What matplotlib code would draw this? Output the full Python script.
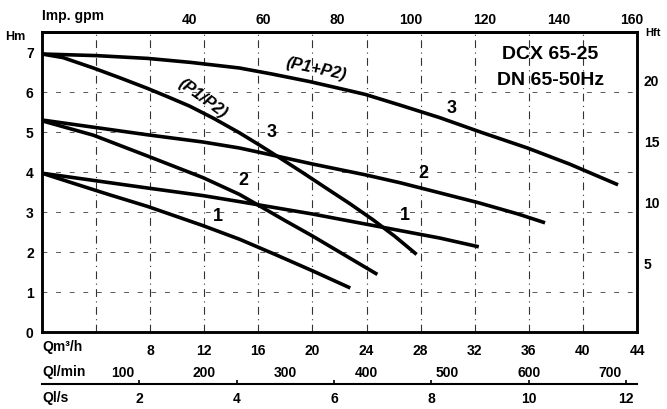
import matplotlib
matplotlib.use('Agg')
import matplotlib.pyplot as plt

plt.rcParams['font.family'] = ['Liberation Sans', 'DejaVu Sans']
plt.rcParams['font.weight'] = 'bold'

# pump curves, Q in m3/h, H in m
q_3_sum = [0, 4, 7.8, 11, 14.6, 17, 19.8, 22, 23.9, 26.5, 29.4, 32.5, 35.9, 39, 42.6]
h_3_sum = [6.95, 6.91, 6.84, 6.74, 6.6, 6.45, 6.26, 6.09, 5.94, 5.67, 5.36, 4.99, 4.6, 4.2, 3.68]
q_3_par = [0, 1.55, 3.8, 5.8, 7.8, 9.3, 10.9, 12.7, 14.6, 16.1, 17.6, 19.3, 21, 22.8, 24.5, 26.1, 27.7]
h_3_par = [6.95, 6.86, 6.6, 6.35, 6.09, 5.88, 5.65, 5.34, 4.98, 4.67, 4.35, 3.98, 3.6, 3.2, 2.8, 2.39, 1.94]

q_2_sum = [0, 3.8, 7.8, 11.9, 14.6, 17.6, 20, 23.9, 26.5, 29.4, 32.3, 35.2, 37.2]
h_2_sum = [5.3, 5.12, 4.93, 4.75, 4.6, 4.38, 4.2, 3.93, 3.73, 3.48, 3.23, 2.95, 2.73]
q_2_par = [0, 3.8, 7.8, 11.9, 14.6, 16.1, 18, 20, 22.5, 24.8]
h_2_par = [5.28, 4.92, 4.4, 3.86, 3.44, 3.15, 2.78, 2.4, 1.9, 1.44]

q_1_sum = [0, 3.8, 7.8, 11.9, 14.6, 20, 23.9, 29.4, 32.3]
h_1_sum = [3.97, 3.79, 3.6, 3.41, 3.26, 2.95, 2.7, 2.35, 2.13]
q_1_par = [0, 2.3, 5, 7.8, 11.9, 14.6, 17.3, 20, 22.8]
h_1_par = [3.97, 3.72, 3.43, 3.14, 2.66, 2.32, 1.93, 1.53, 1.1]

q_ticks = [4, 8, 12, 16, 20, 24, 28, 32, 36, 40, 44]
h_ticks = [0, 1, 2, 3, 4, 5, 6, 7]
ft_ticks = [5, 10, 15, 20]
gpm_ticks = [40, 60, 80, 100, 120, 140, 160]
lmin_ticks = [100, 200, 300, 400, 500, 600, 700]
ls_ticks = [2, 4, 6, 8, 10, 12]

fig = plt.figure(figsize=(6.67, 4.10), dpi=100)
ax = fig.add_axes([42/667, 1 - 333/410, 595/667, 300/410])

for q, h in [(q_3_sum, h_3_sum), (q_3_par, h_3_par), (q_2_sum, h_2_sum),
             (q_2_par, h_2_par), (q_1_sum, h_1_sum), (q_1_par, h_1_par)]:
    ax.plot(q, h, color='black', lw=2.6, solid_capstyle='butt', solid_joinstyle='round')

ax.set_xlim(0, 44)
ax.set_ylim(0, 7.5)
ax.set_xticks(q_ticks, [''] + [str(v) for v in q_ticks[1:]])
ax.set_yticks(h_ticks, [str(v) for v in h_ticks])
ax.tick_params(axis='both', length=0, labelsize=10)
ax.tick_params(axis='x', pad=8)
ax.tick_params(axis='y', pad=6)
ax.grid(axis='x', color='0.2', lw=0.8, ls=(0, (7, 4, 1, 4)))
ax.grid(axis='y', color='0.35', lw=0.7, ls=(0, (5, 9)))
ax.yaxis.get_gridlines()[-1].set_visible(False)
for s in ax.spines.values():
    s.set_linewidth(1.8)

# right axis in feet
ax2 = ax.twinx()
ax2.set_ylim(0, 7.5 / 0.3048)
ax2.set_yticks(ft_ticks, [str(v) for v in ft_ticks], va='bottom')
ax2.tick_params(axis='y', length=0, pad=5, labelsize=10)
for s in ax2.spines.values():
    s.set_linewidth(1.8)

# top axis: Imp. gpm
top = ax.secondary_xaxis('top', functions=(lambda q: q * 3.6662, lambda g: g / 3.6662))
top.set_xticks(gpm_ticks, [str(v) for v in gpm_ticks])
top.tick_params(length=0, pad=4, labelsize=10)
top.spines['top'].set_linewidth(1.8)

# l/min row
lmin = ax.secondary_xaxis(-0.11, functions=(lambda q: q * 1000 / 60, lambda l: l * 60 / 1000))
lmin.set_xticks(lmin_ticks, [str(v) for v in lmin_ticks])
lmin.tick_params(length=0, pad=0, labelsize=10)
lmin.spines['bottom'].set_visible(False)

# l/s row
ls_ax = ax.secondary_xaxis(-0.1733, functions=(lambda q: q / 3.6, lambda l: l * 3.6))
ls_ax.set_xticks(ls_ticks, [str(v) for v in ls_ticks])
ls_ax.tick_params(direction='in', length=3, width=1.2, pad=5, labelsize=10)
ls_ax.spines['bottom'].set_linewidth(1.5)

# axis names
ax.text(0.0, 1.055, 'Imp. gpm', transform=ax.transAxes, ha='left', va='center', fontsize=10)
ax.text(-0.045, 0.985, 'Hm', transform=ax.transAxes, ha='center', va='center', fontsize=9)
ax.text(1.027, 1.0, 'Hft', transform=ax.transAxes, ha='center', va='center', fontsize=8)
ax.text(0.0, -0.047, 'Qm³/h', transform=ax.transAxes, ha='left', va='center', fontsize=10)
ax.text(0.0, -0.13, 'Ql/min', transform=ax.transAxes, ha='left', va='center', fontsize=10)
ax.text(0.0, -0.217, 'Ql/s', transform=ax.transAxes, ha='left', va='center', fontsize=10)

# title block
ax.text(37.6, 6.95, 'DCX 65-25', ha='center', va='center', fontsize=14)
ax.text(37.6, 6.3, 'DN 65-50Hz', ha='center', va='center', fontsize=14)

# curve labels
ax.text(20.3, 6.6, '(P1+P2)', ha='center', va='center', fontsize=12, rotation=-12, style='italic')
ax.text(11.9, 5.85, '(P1/P2)', ha='center', va='center', fontsize=12, rotation=-36, style='italic')
ax.text(17.0, 5.0, '3', ha='center', va='center', fontsize=13)
ax.text(30.3, 5.62, '3', ha='center', va='center', fontsize=13)
ax.text(14.9, 3.82, '2', ha='center', va='center', fontsize=13)
ax.text(28.2, 3.98, '2', ha='center', va='center', fontsize=13)
ax.text(13.0, 2.9, '1', ha='center', va='center', fontsize=13)
ax.text(26.8, 2.94, '1', ha='center', va='center', fontsize=13)

fig.savefig('out.png', dpi=100)
